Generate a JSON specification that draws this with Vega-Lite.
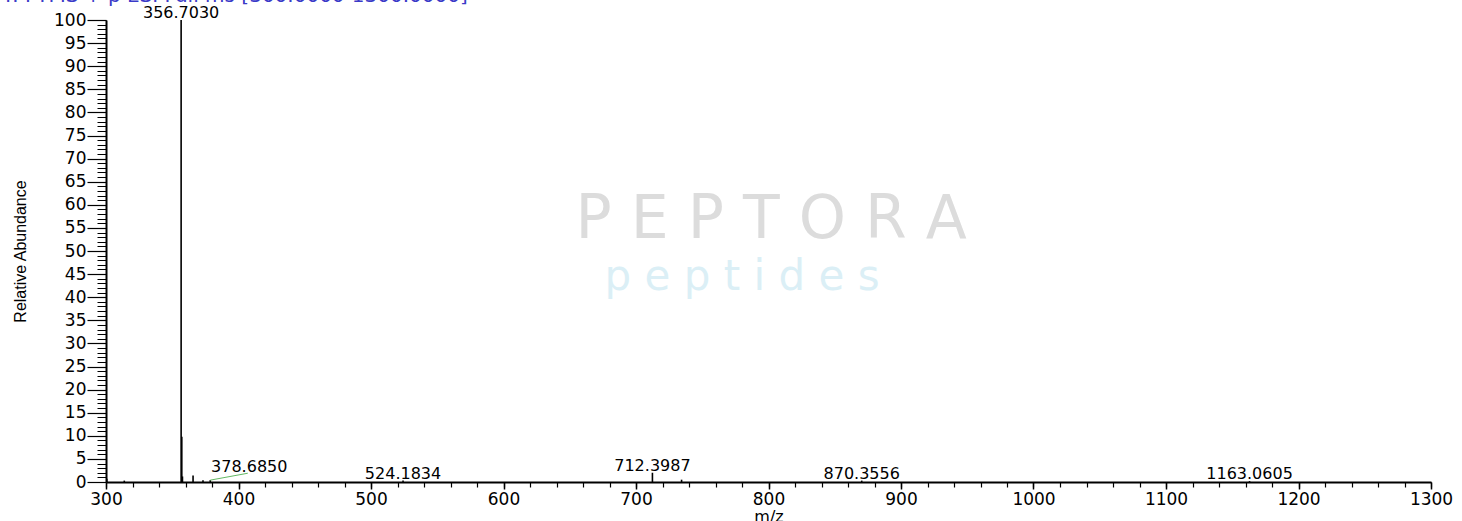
{
  "$schema": "https://vega.github.io/schema/vega-lite/v6.json",
  "width": 1325,
  "height": 462,
  "autosize": {"type": "none"},
  "padding": {"left": 106, "top": 20, "right": 31, "bottom": 39},
  "background": "white",
  "config": {"view": {"stroke": null}, "font": "DejaVu Sans"},
  "datasets": {
    "peaks": [
      {"mz": 300.6, "intensity": 0.7},
      {"mz": 313.8, "intensity": 0.3},
      {"mz": 356.703, "intensity": 100},
      {"mz": 357.205, "intensity": 9.8},
      {"mz": 357.706, "intensity": 1.2},
      {"mz": 365.7, "intensity": 1.4},
      {"mz": 373.2, "intensity": 0.4},
      {"mz": 378.685, "intensity": 0.4},
      {"mz": 524.1834, "intensity": 0.3},
      {"mz": 712.3987, "intensity": 2.0},
      {"mz": 734.4, "intensity": 0.5},
      {"mz": 870.3556, "intensity": 0.3},
      {"mz": 1163.0605, "intensity": 0.2}
    ],
    "labels": [
      {"mz": 356.703, "intensity": 100, "label": "356.7030"},
      {"mz": 524.1834, "intensity": 0.3, "label": "524.1834"},
      {"mz": 712.3987, "intensity": 2.0, "label": "712.3987"},
      {"mz": 870.3556, "intensity": 0.3, "label": "870.3556"},
      {"mz": 1163.0605, "intensity": 0.2, "label": "1163.0605"}
    ],
    "shifted": [
      {"mz": 378.685, "intensity": 0.4, "label": "378.6850"}
    ],
    "header": [
      {"text": "T: FTMS + p ESI Full ms [300.0000-1300.0000]"}
    ],
    "watermark": [
      {"brand": "P E P T O R A", "sub": "p e p t i d e s"}
    ]
  },
  "layer": [
    {
      "data": {"name": "watermark"},
      "mark": {"type": "text", "fontSize": 60, "font": "DejaVu Sans", "fontWeight": "normal", "color": "#dcdcdc", "align": "center", "baseline": "middle"},
      "encoding": {
        "x": {"datum": 802, "type": "quantitative", "axis": null},
        "y": {"datum": 56.7, "type": "quantitative", "axis": null},
        "text": {"field": "brand"}
      }
    },
    {
      "data": {"name": "watermark"},
      "mark": {"type": "text", "fontSize": 42, "font": "DejaVu Sans", "fontWeight": "normal", "color": "#dbeff6", "align": "center", "baseline": "alphabetic"},
      "encoding": {
        "x": {"datum": 780, "type": "quantitative", "axis": null},
        "y": {"datum": 41.5, "type": "quantitative", "axis": null},
        "text": {"field": "sub"}
      }
    },
    {
      "data": {"name": "header"},
      "mark": {"type": "text", "fontSize": 20, "font": "DejaVu Sans", "color": "#3a3ac8", "align": "left", "baseline": "alphabetic"},
      "encoding": {
        "x": {"datum": 221.5, "type": "quantitative", "axis": null},
        "y": {"datum": 104.0, "type": "quantitative", "axis": null},
        "text": {"field": "text"}
      }
    },
    {
      "data": {"name": "peaks"},
      "mark": {"type": "point", "opacity": 0},
      "encoding": {
        "x": {"field": "mz", "type": "quantitative", "scale": {"domain": [300, 1300], "nice": false, "zero": false}, "axis": {"orient": "bottom", "values": [300,320,340,360,380,400,420,440,460,480,500,520,540,560,580,600,620,640,660,680,700,720,740,760,780,800,820,840,860,880,900,920,940,960,980,1000,1020,1040,1060,1080,1100,1120,1140,1160,1180,1200,1220,1240,1260,1280,1300], "labels": false, "domain": false, "grid": false, "tickSize": 5, "tickColor": "black", "tickWidth": 1.2, "title": null}},
        "y": {"field": "intensity", "type": "quantitative", "axis": {"orient": "left", "values": [0,1,2,3,4,5,6,7,8,9,10,11,12,13,14,15,16,17,18,19,20,21,22,23,24,25,26,27,28,29,30,31,32,33,34,35,36,37,38,39,40,41,42,43,44,45,46,47,48,49,50,51,52,53,54,55,56,57,58,59,60,61,62,63,64,65,66,67,68,69,70,71,72,73,74,75,76,77,78,79,80,81,82,83,84,85,86,87,88,89,90,91,92,93,94,95,96,97,98,99,100], "labels": false, "domain": false, "grid": false, "tickSize": 9, "tickColor": "black", "tickWidth": 1, "title": null}}
      }
    },
    {
      "data": {"name": "peaks"},
      "mark": {"type": "rule", "color": "black", "strokeWidth": 1.6},
      "encoding": {
        "x": {
          "field": "mz", "type": "quantitative",
          "scale": {"domain": [300, 1300], "nice": false, "zero": false},
          "axis": {
            "orient": "bottom",
            "values": [300,400,500,600,700,800,900,1000,1100,1200,1300],
            "format": "d",
            "labelFlush": false,
            "grid": false,
            "tickSize": 7, "tickColor": "black", "tickWidth": 1.5,
            "domainColor": "black", "domainWidth": 2,
            "labelFont": "DejaVu Sans", "labelFontSize": 17, "labelColor": "black", "labelPadding": 2,
            "title": "m/z", "titleFont": "DejaVu Sans", "titleFontSize": 16, "titleFontWeight": "normal", "titleColor": "black",
            "titleY": 26, "titleBaseline": "top"
          }
        },
        "y": {
          "field": "intensity", "type": "quantitative",
          "scale": {"domain": [0, 100], "nice": false},
          "axis": {
            "orient": "left",
            "values": [0,5,10,15,20,25,30,35,40,45,50,55,60,65,70,75,80,85,90,95,100],
            "labelFlush": false,
            "grid": false,
            "tickSize": 19, "tickColor": "black", "tickWidth": 1.2,
            "domainColor": "black", "domainWidth": 2,
            "labelFont": "DejaVu Sans", "labelFontSize": 17, "labelColor": "black", "labelPadding": 1,
            "title": "Relative Abundance", "titleFont": "Liberation Sans Narrow, Liberation Sans", "titleFontSize": 16, "titleFontWeight": "normal", "titleColor": "black",
            "titleX": -86, "titleAngle": -90, "titleBaseline": "middle", "titleAlign": "center"
          }
        },
        "y2": {"datum": 0}
      }
    },
    {
      "data": {"name": "labels"},
      "mark": {"type": "text", "font": "DejaVu Sans", "fontSize": 16, "color": "black", "align": "center", "baseline": "alphabetic", "dy": -2},
      "encoding": {
        "x": {"field": "mz", "type": "quantitative", "axis": null},
        "y": {"field": "intensity", "type": "quantitative", "axis": null},
        "text": {"field": "label"}
      }
    },
    {
      "data": {"name": "shifted"},
      "mark": {"type": "rule", "color": "#63b863", "strokeWidth": 1},
      "encoding": {
        "x": {"field": "mz", "type": "quantitative", "axis": null},
        "y": {"field": "intensity", "type": "quantitative", "axis": null},
        "x2": {"datum": 407},
        "y2": {"datum": 1.9}
      }
    },
    {
      "data": {"name": "shifted"},
      "mark": {"type": "text", "font": "DejaVu Sans", "fontSize": 16, "color": "black", "align": "center", "baseline": "alphabetic", "dx": 39, "dy": -8},
      "encoding": {
        "x": {"field": "mz", "type": "quantitative", "axis": null},
        "y": {"field": "intensity", "type": "quantitative", "axis": null},
        "text": {"field": "label"}
      }
    }
  ],
  "resolve": {"axis": {"x": "independent", "y": "independent"}}
}
